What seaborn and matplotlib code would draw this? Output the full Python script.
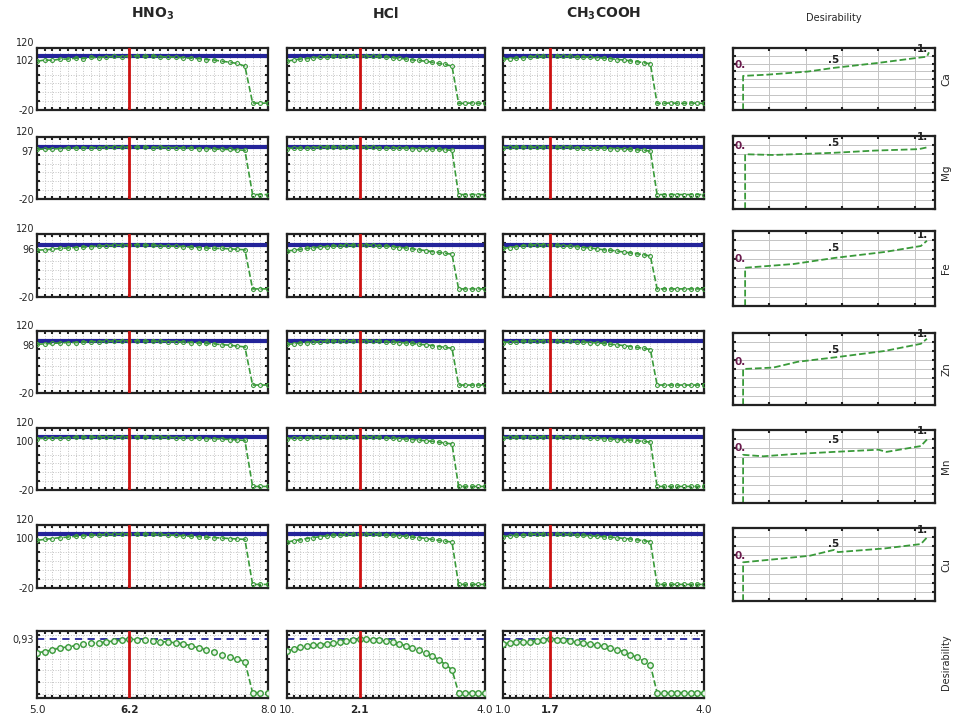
"""
Desirability profiles for metal extraction with three acids
"""

import matplotlib
matplotlib.use("Agg")
import matplotlib.pyplot as plt
import seaborn as sns
from matplotlib.ticker import MultipleLocator, NullLocator

sns.set_style("white")
plt.rcParams["font.family"] = ["DejaVu Sans"]

# factor levels (x axes)
X_HNO3 = [5.0, 5.1, 5.2, 5.3, 5.4, 5.5, 5.6, 5.7, 5.8, 5.9, 6.0, 6.1, 6.2, 6.3, 6.4, 6.5,
          6.6, 6.7, 6.8, 6.9, 7.0, 7.1, 7.2, 7.3, 7.4, 7.5, 7.6, 7.7, 7.8, 7.9, 8.0]
X_HCL = [1.0, 1.1, 1.2, 1.3, 1.4, 1.5, 1.6, 1.7, 1.8, 1.9, 2.0, 2.1, 2.2, 2.3, 2.4, 2.5,
         2.6, 2.7, 2.8, 2.9, 3.0, 3.1, 3.2, 3.3, 3.4, 3.5, 3.6, 3.7, 3.8, 3.9, 4.0]
X_CH3COOH = [1.0, 1.1, 1.2, 1.3, 1.4, 1.5, 1.6, 1.7, 1.8, 1.9, 2.0, 2.1, 2.2, 2.3, 2.4, 2.5,
             2.6, 2.7, 2.8, 2.9, 3.0, 3.1, 3.2, 3.3, 3.4, 3.5, 3.6, 3.7, 3.8, 3.9, 4.0]

ACID_TITLES = [r"HNO$_\mathbf{3}$", "HCl", r"CH$_\mathbf{3}$COOH"]
OPTIMUM_X = [6.2, 2.1, 1.7]
X_TICK_LABELS = [["5.0", "6.2", "8.0"], ["10.", "2.1", "4.0"], ["1.0", "1.7", "4.0"]]

ELEMENTS = ["Ca", "Mg", "Fe", "Zn", "Mn", "Cu"]
PREDICTED = [102, 97, 96, 98, 100, 100]

# predicted responses (%)
CA_HNO3 = [90, 93, 92, 95, 95, 97, 96, 99, 98, 100, 101, 100, 102, 102, 101, 102, 100, 100, 99, 98,
           97, 96, 94, 93, 90, 88, 85, 79, -4, -5, -4]
CA_HCL = [90, 93, 95, 96, 98, 99, 100, 101, 102, 102, 103, 102, 102, 101, 101, 100, 98, 97, 95, 93,
          92, 90, 88, 85, 83, 79, -5, -5, -4, -5, -5]
CA_CH3COOH = [95, 96, 97, 98, 100, 101, 101, 102, 102, 101, 101, 100, 100, 99, 98, 97, 96, 94, 93, 91,
              89, 87, 84, -5, -5, -4, -5, -5, -4, -5, -5]

MG_HNO3 = [92, 93, 93, 94, 95, 95, 96, 96, 96, 97, 97, 97, 97, 97, 97, 96, 97, 96, 96, 95,
           95, 94, 94, 93, 92, 92, 91, 90, -10, -10, -10]
MG_HCL = [94, 95, 95, 96, 96, 97, 97, 97, 97, 97, 97, 97, 97, 97, 96, 96, 96, 95, 95, 94,
          94, 93, 93, 92, 91, 90, -10, -10, -10, -10, -10]
MG_CH3COOH = [96, 97, 97, 97, 97, 97, 97, 97, 97, 97, 97, 96, 96, 96, 95, 95, 94, 94, 93, 92,
              91, 90, 88, -10, -10, -10, -10, -10, -10, -10, -10]

FE_HNO3 = [84, 85, 86, 88, 89, 90, 91, 92, 93, 94, 95, 95, 96, 96, 95, 95, 94, 93, 93, 92,
           91, 90, 89, 88, 88, 87, 86, 85, -2, -2, -2]
FE_HCL = [82, 84, 86, 88, 89, 91, 92, 93, 94, 95, 95, 96, 96, 95, 94, 93, 92, 90, 89, 87,
          85, 83, 81, 79, 77, 75, -2, -2, -2, -2, -2]
FE_CH3COOH = [88, 90, 92, 94, 95, 96, 96, 96, 95, 94, 93, 92, 90, 89, 87, 85, 84, 82, 80, 78,
              76, 74, 71, -2, -2, -2, -2, -2, -2, -2, -2]

ZN_HNO3 = [90, 91, 92, 93, 94, 94, 95, 96, 96, 97, 97, 98, 98, 98, 97, 97, 97, 96, 96, 95,
           94, 93, 92, 91, 89, 88, 86, 84, -2, -2, -2]
ZN_HCL = [90, 91, 93, 94, 95, 96, 97, 97, 98, 98, 98, 98, 98, 97, 97, 96, 95, 94, 93, 92,
          90, 89, 87, 85, 83, 81, -2, -2, -2, -2, -2]
ZN_CH3COOH = [94, 95, 96, 97, 97, 98, 98, 98, 98, 97, 97, 96, 95, 94, 93, 92, 90, 89, 87, 85,
              83, 81, 78, -2, -2, -2, -2, -2, -2, -2, -2]

MN_HNO3 = [96, 97, 97, 98, 98, 99, 99, 99, 100, 100, 100, 100, 100, 100, 100, 99, 99, 99, 98, 98,
           97, 97, 96, 96, 95, 94, 93, 92, -12, -12, -12]
MN_HCL = [96, 97, 98, 98, 99, 99, 100, 100, 100, 100, 100, 100, 100, 99, 99, 98, 97, 96, 95, 94,
          93, 91, 90, 88, 86, 84, -12, -12, -12, -12, -12]
MN_CH3COOH = [98, 99, 99, 100, 100, 100, 100, 100, 100, 100, 99, 99, 99, 98, 97, 96, 95, 94, 93, 92,
              91, 90, 88, -12, -12, -12, -12, -12, -12, -12, -12]

CU_HNO3 = [86, 88, 90, 92, 93, 95, 96, 97, 98, 99, 99, 100, 100, 100, 100, 99, 99, 98, 97, 96,
           95, 94, 93, 92, 91, 90, 89, 88, -12, -12, -12]
CU_HCL = [82, 85, 87, 90, 92, 94, 96, 97, 98, 99, 100, 100, 100, 100, 99, 98, 97, 96, 95, 93,
          92, 90, 88, 86, 84, 82, -12, -12, -12, -12, -12]
CU_CH3COOH = [94, 96, 97, 98, 99, 100, 100, 100, 100, 99, 99, 98, 97, 96, 95, 94, 93, 92, 90, 89,
              87, 85, 83, -12, -12, -12, -12, -12, -12, -12, -12]

# overall desirability
DES_HNO3 = [0.70, 0.72, 0.75, 0.78, 0.80, 0.82, 0.85, 0.86, 0.87, 0.885, 0.90, 0.91, 0.93, 0.925,
            0.92, 0.90, 0.89, 0.88, 0.87, 0.85, 0.82, 0.78, 0.75, 0.71, 0.67, 0.63, 0.59, 0.55,
            0.02, 0.02, 0.02]
DES_HCL = [0.73, 0.76, 0.79, 0.81, 0.83, 0.84, 0.85, 0.87, 0.88, 0.90, 0.92, 0.93, 0.93, 0.92,
           0.91, 0.90, 0.88, 0.85, 0.82, 0.78, 0.74, 0.70, 0.65, 0.58, 0.50, 0.41,
           0.02, 0.02, 0.02, 0.02, 0.02]
DES_CH3COOH = [0.85, 0.87, 0.88, 0.885, 0.89, 0.90, 0.92, 0.93, 0.92, 0.91, 0.90, 0.88, 0.87, 0.85,
               0.83, 0.81, 0.78, 0.75, 0.72, 0.67, 0.62, 0.56, 0.49,
               0.02, 0.02, 0.02, 0.02, 0.02, 0.02, 0.02, 0.02]
DES_MAX = 0.93

# desirability functions of each response (scaled response vs desirability)
DF_CA_X = [0.05, 0.05, 0.17, 0.37, 0.50, 0.72, 0.91, 0.96, 0.97]
DF_CA_Y = [0.0, 0.55, 0.57, 0.62, 0.68, 0.76, 0.84, 0.86, 0.93]
DF_MG_X = [0.06, 0.06, 0.20, 0.50, 0.70, 0.92, 0.97]
DF_MG_Y = [0.0, 0.75, 0.74, 0.77, 0.80, 0.82, 0.85]
DF_FE_X = [0.06, 0.06, 0.30, 0.50, 0.75, 0.93, 0.96]
DF_FE_Y = [0.0, 0.51, 0.56, 0.64, 0.72, 0.80, 0.87]
DF_ZN_X = [0.05, 0.05, 0.20, 0.32, 0.50, 0.75, 0.93, 0.96]
DF_ZN_Y = [0.0, 0.50, 0.52, 0.60, 0.66, 0.75, 0.85, 0.92]
DF_MN_X = [0.05, 0.05, 0.15, 0.30, 0.50, 0.72, 0.76, 0.93, 0.96]
DF_MN_Y = [0.0, 0.66, 0.64, 0.67, 0.70, 0.73, 0.70, 0.78, 0.87]
DF_CU_X = [0.05, 0.05, 0.20, 0.38, 0.50, 0.52, 0.75, 0.93, 0.96]
DF_CU_Y = [0.0, 0.53, 0.57, 0.62, 0.70, 0.67, 0.72, 0.78, 0.87]
DF_LABELS = ["0.", ".5", "1."]
DF_LABEL_Y = [[0.73, 0.81, 0.99], [0.86, 0.90, 0.99], [0.62, 0.77, 0.94],
              [0.60, 0.77, 0.98], [0.75, 0.86, 0.98], [0.62, 0.78, 0.97]]

GREEN = "#3a9a3a"
BLUE = "#24249a"
RED = "#cc1111"
W, H = 955, 719

COL_X = [(37, 268), (287, 485), (503, 704)]
ROW_Y = [(48, 110), (137, 199), (234, 297), (331, 393), (428, 490), (525, 588)]
BOTTOM_Y = (631, 698)
DF_COL_X = (733, 935)
DF_ROW_Y = [(48, 110), (136, 209), (231, 306), (333, 405), (430, 503), (528, 601)]


def px_axes(fig, xr, yr):
    return fig.add_axes([xr[0] / W, 1 - yr[1] / H, (xr[1] - xr[0]) / W, (yr[1] - yr[0]) / H])


def style_box(ax, xstep, ystep, grid_ls=":"):
    for s in ax.spines.values():
        s.set_linewidth(1.6)
        s.set_color("#222222")
    ax.xaxis.set_minor_locator(MultipleLocator(xstep))
    ax.yaxis.set_minor_locator(MultipleLocator(ystep))
    ax.tick_params(which="minor", direction="in", length=2.5, width=1.5, color="#222222",
                   top=True, bottom=True, left=True, right=True)
    ax.tick_params(which="major", length=0, labelsize=7, pad=2)
    ax.grid(which="minor", color="#c4c4c4", linestyle=grid_ls, linewidth=0.7)
    ax.grid(which="major", visible=False)
    ax.set_axisbelow(True)
    ax.set_xlabel("")
    ax.set_ylabel("")


fig = plt.figure(figsize=(W / 100, H / 100), dpi=100)

xs_all = [X_HNO3, X_HCL, X_CH3COOH]
responses = [
    [CA_HNO3, CA_HCL, CA_CH3COOH],
    [MG_HNO3, MG_HCL, MG_CH3COOH],
    [FE_HNO3, FE_HCL, FE_CH3COOH],
    [ZN_HNO3, ZN_HCL, ZN_CH3COOH],
    [MN_HNO3, MN_HCL, MN_CH3COOH],
    [CU_HNO3, CU_HCL, CU_CH3COOH],
]
des_all = [DES_HNO3, DES_HCL, DES_CH3COOH]

title_font = ["Liberation Sans Narrow", "DejaVu Sans"]
for j in range(3):
    xc = (COL_X[j][0] + COL_X[j][1]) / 2 / W
    fig.text(xc, 1 - 14 / H, ACID_TITLES[j], ha="center", va="center", fontsize=10,
             fontweight="bold", family=title_font)

    # response rows
    for i in range(6):
        ax = px_axes(fig, COL_X[j], ROW_Y[i])
        ax.axhline(PREDICTED[i], color=BLUE, linewidth=3, zorder=2)
        sns.lineplot(x=xs_all[j], y=responses[i][j], ax=ax, color=GREEN, linestyle="--",
                     linewidth=1.2, marker="o", markersize=2.8, markerfacecolor="none",
                     markeredgecolor=GREEN, markeredgewidth=0.8, estimator=None, sort=False,
                     legend=False, zorder=3)
        ax.axvline(OPTIMUM_X[j], color=RED, linewidth=2, zorder=4)
        ax.set_xlim(xs_all[j][0], xs_all[j][-1])
        ax.set_ylim(-20, 120)
        style_box(ax, 0.1, 20)
        ax.xaxis.set_major_locator(NullLocator())
        if j == 0:
            ax.set_yticks([-20, PREDICTED[i], 120], ["-20", str(PREDICTED[i]), "120"])
            labels = ax.get_yticklabels()
            labels[2].set_verticalalignment("bottom")
            labels[1].set_verticalalignment("top")
        else:
            ax.yaxis.set_major_locator(NullLocator())

    # overall desirability row
    ax = px_axes(fig, COL_X[j], BOTTOM_Y)
    ax.axhline(DES_MAX, color=BLUE, linewidth=1.3, linestyle=(0, (4, 3)), zorder=2)
    sns.lineplot(x=xs_all[j], y=des_all[j], ax=ax, color=GREEN, linestyle="--",
                 linewidth=1.2, marker="o", markersize=4.0, markerfacecolor="#e8f4e8",
                 markeredgecolor=GREEN, markeredgewidth=1.0, estimator=None, sort=False,
                 legend=False, zorder=3)
    ax.axvline(OPTIMUM_X[j], color=RED, linewidth=2, zorder=4)
    ax.set_xlim(xs_all[j][0], xs_all[j][-1])
    ax.set_ylim(-0.07, 1.07)
    style_box(ax, 0.1, 0.2)
    ax.set_xticks([xs_all[j][0], OPTIMUM_X[j], xs_all[j][-1]], X_TICK_LABELS[j])
    ax.tick_params(axis="x", which="major", labelsize=7.5, pad=5)
    ax.get_xticklabels()[1].set_fontweight("bold")
    if j == 0:
        ax.set_yticks([DES_MAX], ["0,93"])
    else:
        ax.yaxis.set_major_locator(NullLocator())

# desirability functions column
fig.text((DF_COL_X[0] + DF_COL_X[1]) / 2 / W, 1 - 18 / H, "Desirability", ha="center",
         va="center", fontsize=7)
df_x = [DF_CA_X, DF_MG_X, DF_FE_X, DF_ZN_X, DF_MN_X, DF_CU_X]
df_y = [DF_CA_Y, DF_MG_Y, DF_FE_Y, DF_ZN_Y, DF_MN_Y, DF_CU_Y]
for i in range(6):
    ax = px_axes(fig, DF_COL_X, DF_ROW_Y[i])
    sns.lineplot(x=df_x[i], y=df_y[i], ax=ax, color=GREEN, linestyle="--", linewidth=1.3,
                 estimator=None, sort=False, legend=False)
    ax.set_xlim(0, 1)
    ax.set_ylim(0, 1)
    style_box(ax, 0.18, 0.125, grid_ls="-")
    ax.xaxis.set_major_locator(NullLocator())
    ax.yaxis.set_major_locator(NullLocator())
    ax.text(0.005, DF_LABEL_Y[i][0], DF_LABELS[0], color="#6a1b4d", fontsize=7.5,
            fontweight="bold", ha="left", va="center")
    ax.text(0.5, DF_LABEL_Y[i][1], DF_LABELS[1], color="#222222", fontsize=7.5,
            fontweight="bold", ha="center", va="center")
    ax.text(0.94, DF_LABEL_Y[i][2], DF_LABELS[2], color="#222222", fontsize=7.5,
            fontweight="bold", ha="center", va="center")
    yc = (DF_ROW_Y[i][0] + DF_ROW_Y[i][1]) / 2
    fig.text(946 / W, 1 - yc / H, ELEMENTS[i], rotation=90, ha="center", va="center",
             fontsize=7.5)

fig.text(946 / W, 1 - 662 / H, "Desirability", rotation=90, ha="center", va="center",
         fontsize=7)

fig.savefig("out.png", dpi=100)
plt.close(fig)
